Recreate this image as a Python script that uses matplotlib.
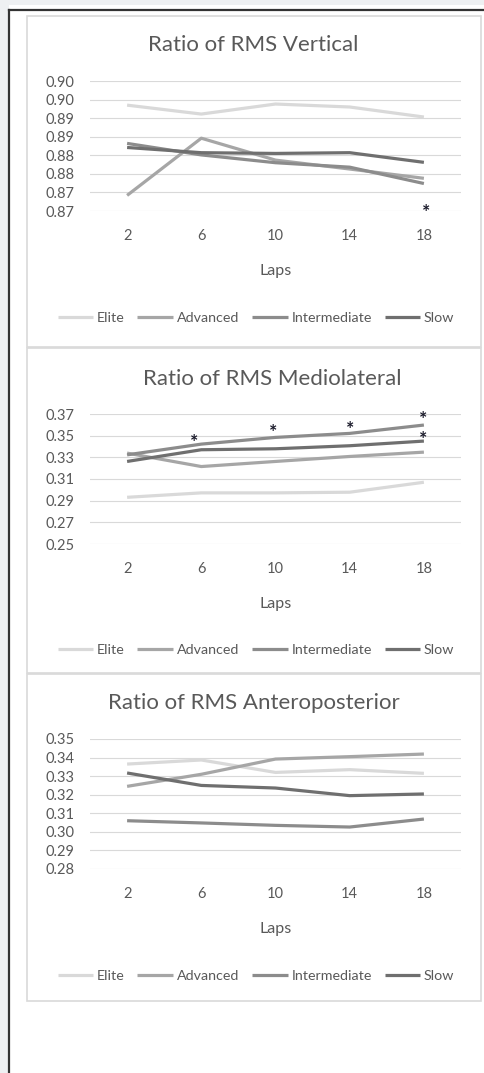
import matplotlib
matplotlib.use("Agg")
import matplotlib.pyplot as plt
from matplotlib.patches import Rectangle
from matplotlib.lines import Line2D

plt.rcParams['font.family'] = ['Lato', 'DejaVu Sans']

laps = ["2", "6", "10", "14", "18"]
groups = ["Elite", "Advanced", "Intermediate", "Slow"]
group_colors = ["#d9d9d9", "#a6a6a6", "#8c8c8c", "#6f6f6f"]

# vertical
vert_elite = [0.8935, 0.8911, 0.8938, 0.8930, 0.8903]
vert_advanced = [0.8692, 0.8846, 0.8787, 0.8763, 0.8738]
vert_intermediate = [0.8832, 0.8801, 0.8780, 0.8768, 0.8724]
vert_slow = [0.8821, 0.8807, 0.8805, 0.8807, 0.8781]
vert_ticks = [0.865, 0.870, 0.875, 0.880, 0.885, 0.890, 0.895, 0.900]
vert_ticklabels = ["0.87", "0.87", "0.88", "0.88", "0.89", "0.89", "0.90", "0.90"]
vert_star_x = [4.03]
vert_star_y = [0.8658]

# mediolateral
ml_elite = [0.2931, 0.2972, 0.2972, 0.2978, 0.3070]
ml_advanced = [0.3339, 0.3215, 0.3262, 0.3308, 0.3348]
ml_intermediate = [0.3323, 0.3422, 0.3484, 0.3521, 0.3598]
ml_slow = [0.3262, 0.3370, 0.3379, 0.3407, 0.3450]
ml_ticks = [0.25, 0.27, 0.29, 0.31, 0.33, 0.35, 0.37]
ml_ticklabels = ["0.25", "0.27", "0.29", "0.31", "0.33", "0.35", "0.37"]
ml_star_x = [0.9, 1.97, 3.0, 3.99, 3.99]
ml_star_y = [0.3484, 0.3570, 0.3601, 0.3694, 0.3508]

# anteroposterior
ap_elite = [0.3365, 0.3387, 0.3320, 0.3335, 0.3315]
ap_advanced = [0.3245, 0.3310, 0.3392, 0.3405, 0.3419]
ap_intermediate = [0.3060, 0.3048, 0.3035, 0.3026, 0.3069]
ap_slow = [0.3317, 0.3250, 0.3236, 0.3195, 0.3204]
ap_ticks = [0.28, 0.29, 0.30, 0.31, 0.32, 0.33, 0.34, 0.35]
ap_ticklabels = ["0.28", "0.29", "0.30", "0.31", "0.32", "0.33", "0.34", "0.35"]

W, H = 485, 1073
TEXT = "#595959"


def frac(x0, y0, x1, y1):
    # pixel box (top-left origin) -> figure fraction rect
    return [x0 / W, 1 - y1 / H, (x1 - x0) / W, (y1 - y0) / H]


fig = plt.figure(figsize=(W / 100, H / 100), dpi=100)
fig.patch.set_facecolor("white")

# page background / frame
fig.add_artist(Rectangle((0, 0), 1, 1, transform=fig.transFigure,
                         facecolor="#eef0f2", edgecolor="none", zorder=-5))
r = frac(9, 5, W, H)
fig.add_artist(Rectangle((r[0], r[1]), r[2], r[3], transform=fig.transFigure,
                         facecolor="white", edgecolor="none", zorder=-4))
fig.add_artist(Line2D([9.5 / W, 9.5 / W], [0, 1 - 9.5 / H], transform=fig.transFigure,
                      color="#333333", lw=1.6, zorder=-3))
fig.add_artist(Line2D([9.5 / W, 1], [1 - 9.5 / H, 1 - 9.5 / H], transform=fig.transFigure,
                      color="#333333", lw=1.6, zorder=-3))

panels = [
    dict(title="Ratio of RMS Vertical", data=[vert_elite, vert_advanced, vert_intermediate, vert_slow],
         ticks=vert_ticks, labels=vert_ticklabels, stars=(vert_star_x, vert_star_y),
         box=(27, 16, 481, 347), plot=(90, 81, 461, 211), title_xy=(253, 45),
         xt_y=237, xl_y=271, leg_y=318),
    dict(title="Ratio of RMS Mediolateral", data=[ml_elite, ml_advanced, ml_intermediate, ml_slow],
         ticks=ml_ticks, labels=ml_ticklabels, stars=(ml_star_x, ml_star_y),
         box=(27, 348, 481, 673), plot=(90, 414, 461, 544), title_xy=(272, 379),
         xt_y=570, xl_y=604, leg_y=650),
    dict(title="Ratio of RMS Anteroposterior", data=[ap_elite, ap_advanced, ap_intermediate, ap_slow],
         ticks=ap_ticks, labels=ap_ticklabels, stars=None,
         box=(27, 674, 481, 1001), plot=(90, 739, 461, 869), title_xy=(254, 703),
         xt_y=895, xl_y=929, leg_y=976),
]

for p in panels:
    bx = frac(*p["box"])
    fig.add_artist(Rectangle((bx[0], bx[1]), bx[2], bx[3], transform=fig.transFigure,
                             facecolor="white", edgecolor="#d9d9d9", lw=1.2, zorder=-2))

    ax = fig.add_axes(frac(*p["plot"]))
    ax.set_facecolor("none")
    xs = range(len(laps))
    for series, name, color in zip(p["data"], groups, group_colors):
        ax.plot(xs, series, color=color, lw=2.3, label=name, solid_capstyle="butt")
    ax.set_xlim(-0.5, len(laps) - 0.5)
    ax.set_ylim(p["ticks"][0], p["ticks"][-1])
    ax.set_yticks(p["ticks"])
    ax.set_yticklabels(p["labels"])
    ax.set_xticks(list(xs))
    ax.set_xticklabels(laps)
    ax.tick_params(length=0, labelsize=10.5, labelcolor=TEXT)
    ax.tick_params(axis="y", pad=11)
    ax.tick_params(axis="x", pad=(p["xt_y"] - p["plot"][3]) * 0.72 - 6)
    ax.grid(axis="y", color="#d9d9d9", lw=0.8)
    ax.set_axisbelow(True)
    for s in ax.spines.values():
        s.set_visible(False)

    if p["stars"]:
        for sx, sy in zip(*p["stars"]):
            ax.annotate("*", (sx, sy), xytext=(0, -3.5), textcoords="offset points",
                        ha="center", va="center", fontsize=14,
                        fontweight="bold", color="#1a1a2a", annotation_clip=False)

    tx, ty = p["title_xy"]
    fig.text(tx / W, 1 - ty / H, p["title"], ha="center", va="center",
             fontsize=16, color=TEXT)
    cx = (p["plot"][0] + p["plot"][2]) / 2 / W
    fig.text(cx, 1 - p["xl_y"] / H, "Laps", ha="center", va="center",
             fontsize=11.5, color=TEXT)

    handles, names = ax.get_legend_handles_labels()
    fig.legend(handles, names, loc="center", ncol=4, frameon=False,
               bbox_to_anchor=(256 / W, 1 - p["leg_y"] / H),
               fontsize=10.3, labelcolor=TEXT, handlelength=2.5,
               handletextpad=0.25, columnspacing=0.9)

fig.savefig("out.png", dpi=100)
